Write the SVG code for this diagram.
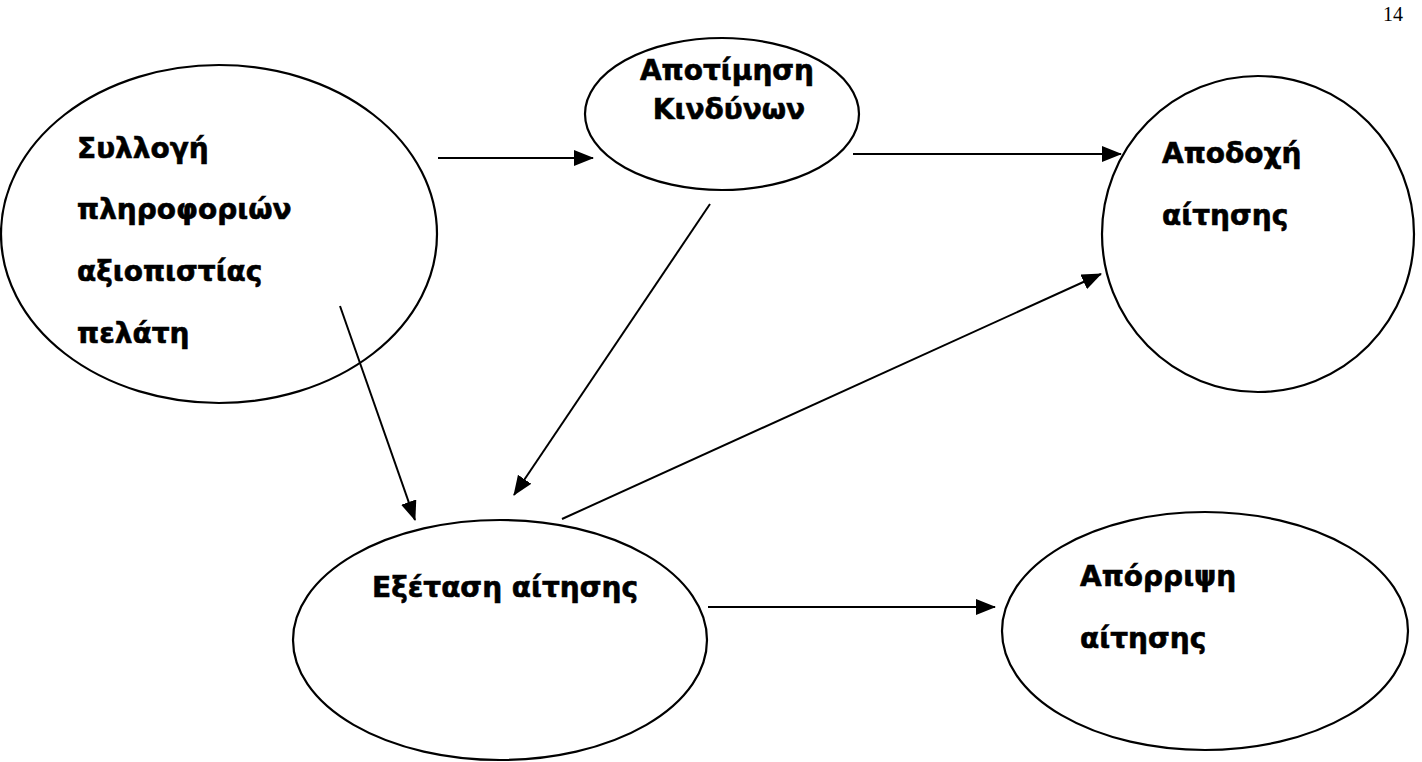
<svg xmlns="http://www.w3.org/2000/svg" width="1422" height="762" viewBox="0 0 1422 762">
<style>
.node{fill:#fff;stroke:#000;stroke-width:2.2}
.lbl{font-family:"DejaVu Sans","Noto Sans",sans-serif;font-weight:bold;font-size:28px;fill:#000;stroke:#000;stroke-width:0.6}
.edge{stroke:#000;stroke-width:2;fill:none;marker-end:url(#ah)}
.pg{font-family:"Liberation Serif",serif;font-size:20px;fill:#000}
</style>
<defs>
<marker id="ah" markerWidth="20" markerHeight="16" refX="19" refY="8" orient="auto" markerUnits="userSpaceOnUse">
<path d="M0,0 L20,8 L0,16 Z" fill="#000"/>
</marker>
</defs>
<rect width="1422" height="762" fill="#fff"/>
<text class="pg" x="1383" y="21">14</text>
<g id="n1">
<ellipse class="node" cx="219" cy="234" rx="218" ry="169"/>
<text class="lbl" x="77" y="158">Συλλογή</text>
<text class="lbl" x="77" y="219">πληροφοριών</text>
<text class="lbl" x="77" y="281">αξιοπιστίας</text>
<text class="lbl" x="77" y="343">πελάτη</text>
</g>
<g id="n2">
<ellipse class="node" cx="722" cy="114" rx="137" ry="76"/>
<text class="lbl" x="727" y="80" text-anchor="middle">Αποτίμηση</text>
<text class="lbl" x="729" y="119" text-anchor="middle">Κινδύνων</text>
</g>
<g id="n3">
<ellipse class="node" cx="1258" cy="234" rx="156" ry="158"/>
<text class="lbl" x="1162" y="163">Αποδοχή</text>
<text class="lbl" x="1162" y="225">αίτησης</text>
</g>
<g id="n4">
<ellipse class="node" cx="500" cy="640" rx="207" ry="120"/>
<text class="lbl" x="372" y="597">Εξέταση αίτησης</text>
</g>
<g id="n5">
<ellipse class="node" cx="1205" cy="631" rx="203" ry="119"/>
<text class="lbl" x="1080" y="586">Απόρριψη</text>
<text class="lbl" x="1080" y="648">αίτησης</text>
</g>
<g id="edges">
<line class="edge" x1="438" y1="158" x2="593" y2="158"/>
<line class="edge" x1="853" y1="154" x2="1121" y2="154"/>
<line class="edge" x1="710" y1="204" x2="514" y2="495"/>
<line class="edge" x1="340" y1="306" x2="415" y2="520"/>
<line class="edge" x1="562" y1="519" x2="1101" y2="274"/>
<line class="edge" x1="708" y1="607" x2="995" y2="607"/>
</g>
</svg>
